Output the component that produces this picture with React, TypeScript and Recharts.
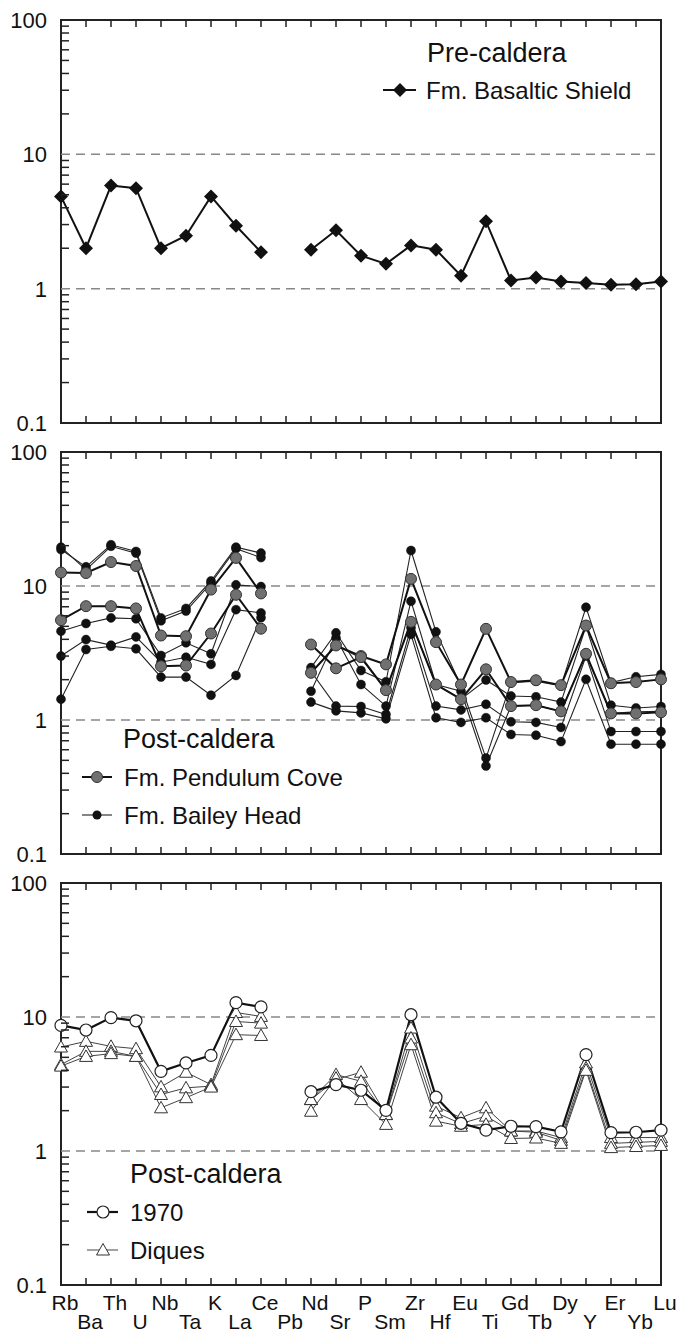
import React from "react";
import {
  LineChart,
  Line,
  XAxis,
  YAxis,
  ReferenceLine,
  ReferenceArea,
  Legend,
} from "recharts";

const ELEMENTS = [
  "Rb", "Ba", "Th", "U", "Nb", "Ta", "K", "La", "Ce", "Pb", "Nd", "Sr", "P",
  "Sm", "Zr", "Hf", "Eu", "Ti", "Gd", "Tb", "Dy", "Y", "Er", "Yb", "Lu",
];

const X_TICKS = ELEMENTS.map((_, i) => i);

const DECADES = [0.1, 1, 10, 100];
const Y_TICKS = [
  0.1, 0.2, 0.3, 0.4, 0.5, 0.6, 0.7, 0.8, 0.9,
  1, 2, 3, 4, 5, 6, 7, 8, 9,
  10, 20, 30, 40, 50, 60, 70, 80, 90,
  100,
];

// pre-caldera
const BASALTIC_SHIELD = [4.86, 2.0, 5.86, 5.6, 2.0, 2.48, 4.86, 2.94, 1.87, null, 1.95, 2.72, 1.76, 1.53, 2.1, 1.95, 1.25, 3.17, 1.15, 1.21, 1.13, 1.1, 1.07, 1.08, 1.13];

// post-caldera: Pendulum Cove
const PENDULUM_1 = [12.6, 12.5, 15.1, 14.1, 4.27, 4.22, 9.4, 16.2, 8.8, null, 2.25, 3.6, 3.0, 2.6, 11.3, 3.81, 1.84, 4.79, 1.92, 1.98, 1.82, 5.07, 1.88, 1.92, 2.01];
const PENDULUM_2 = [5.56, 7.07, 7.07, 6.8, 2.52, 2.55, 4.42, 8.6, 4.8, null, 3.66, 2.43, 2.95, 1.67, 5.4, 1.84, 1.43, 2.39, 1.27, 1.29, 1.16, 3.12, 1.12, 1.12, 1.14];

// post-caldera: Bailey Head
const BAILEY_1 = [18.7, 13.9, 20.3, 18.1, 5.78, 6.8, 10.9, 19.5, 17.6, null, 2.46, 4.47, 2.34, 1.93, 18.4, 4.55, 1.8, 0.52, 1.9, 1.95, 1.8, 6.94, 1.9, 2.1, 2.19];
const BAILEY_2 = [19.5, 13.2, 19.8, 17.6, 5.5, 6.5, 10.5, 19.0, 16.3, null, 2.25, 3.6, 2.9, 1.67, 5.4, 1.84, 1.64, 0.454, 1.27, 1.29, 1.16, 3.12, 1.12, 1.15, 1.16];
const BAILEY_3 = [4.6, 5.25, 5.78, 5.7, 3.03, 3.77, 3.12, 10.2, 9.9, null, 1.64, 4.1, 1.84, 1.27, 7.7, 1.84, 1.43, 1.99, 1.51, 1.49, 1.36, 5.0, 1.29, 1.23, 1.26];
const BAILEY_4 = [3.0, 3.98, 3.62, 4.17, 2.7, 2.94, 2.6, 6.66, 6.3, null, 2.3, 1.27, 1.26, 1.1, 4.88, 1.27, 1.19, 1.31, 0.97, 0.96, 0.88, 3.0, 0.82, 0.82, 0.82];
const BAILEY_5 = [1.43, 3.36, 3.55, 3.4, 2.09, 2.09, 1.53, 2.15, 5.8, null, 1.36, 1.17, 1.13, 1.02, 4.35, 1.04, 0.96, 1.04, 0.78, 0.77, 0.69, 2.01, 0.66, 0.66, 0.66];

// post-caldera: 1970 eruption and dykes
const ERUPTION_1970 = [8.65, 8.0, 9.9, 9.37, 3.93, 4.54, 5.17, 12.8, 11.9, null, 2.77, 3.13, 2.84, 2.01, 10.4, 2.52, 1.61, 1.43, 1.53, 1.52, 1.39, 5.24, 1.37, 1.38, 1.43];
const DIQUES_1 = [5.97, 6.58, 6.04, 5.8, 3.01, 3.87, 3.13, 10.8, 10.1, null, 2.42, 3.41, 3.87, 1.87, 8.27, 2.16, 1.77, 2.1, 1.41, 1.41, 1.26, 4.54, 1.26, 1.26, 1.26];
const DIQUES_2 = [4.41, 5.54, 5.54, 5.08, 2.64, 2.96, 3.05, 9.26, 9.0, null, 2.42, 3.72, 3.31, 1.87, 6.97, 1.93, 1.6, 1.82, 1.41, 1.38, 1.2, 4.17, 1.14, 1.16, 1.18];
const DIQUES_3 = [4.3, 5.08, 5.33, 5.08, 2.1, 2.5, 3.0, 7.38, 7.28, null, 1.98, 3.5, 2.42, 1.58, 6.21, 1.67, 1.53, 1.58, 1.24, 1.25, 1.14, 4.0, 1.06, 1.08, 1.1];

const rows1 = ELEMENTS.map((el, i) => ({ i, el, bs: BASALTIC_SHIELD[i] }));
const rows2 = ELEMENTS.map((el, i) => ({
  i, el,
  pc1: PENDULUM_1[i], pc2: PENDULUM_2[i],
  bh1: BAILEY_1[i], bh2: BAILEY_2[i], bh3: BAILEY_3[i], bh4: BAILEY_4[i], bh5: BAILEY_5[i],
}));
const rows3 = ELEMENTS.map((el, i) => ({
  i, el,
  e70: ERUPTION_1970[i], d1: DIQUES_1[i], d2: DIQUES_2[i], d3: DIQUES_3[i],
}));

const INK = "#222";
const FONT = "'Liberation Sans', Arial, sans-serif";

const LogTick = (props: any) => {
  const { x, y, payload } = props;
  const v = payload.value;
  if (DECADES.includes(v)) {
    return (
      <text x={x - 14} y={y} dy="0.36em" textAnchor="end" fontSize={22} fill="#111">
        {String(v)}
      </text>
    );
  }
  return <line x1={x} y1={y} x2={x + 8} y2={y} stroke={INK} strokeWidth={1.5} />;
};

const makeXTick = (plotH: number, labels: boolean) => (props: any) => {
  const { x, y, payload } = props;
  const i = payload.value;
  return (
    <g>
      <line x1={x} y1={y} x2={x} y2={y - 7} stroke={INK} strokeWidth={1.5} />
      <line x1={x} y1={y - plotH} x2={x} y2={y - plotH + 7} stroke={INK} strokeWidth={1.5} />
      {labels && (
        <text x={x + 4} y={y + (i % 2 === 0 ? 25 : 44)} textAnchor="middle" fontSize={21} fill="#111">
          {ELEMENTS[i]}
        </text>
      )}
    </g>
  );
};

const Diamond = (p: any) => {
  const { cx, cy, index } = p;
  if (cx == null || cy == null) return <g key={`dm-${index}`} />;
  return (
    <path
      key={`dm-${index}`}
      d={`M${cx},${cy - 7}L${cx + 7},${cy}L${cx},${cy + 7}L${cx - 7},${cy}Z`}
      fill="#111"
    />
  );
};

const Triangle = (p: any) => {
  const { cx, cy, index, dataKey } = p;
  if (cx == null || cy == null) return <g key={`tr-${dataKey}-${index}`} />;
  return (
    <path
      key={`tr-${dataKey}-${index}`}
      d={`M${cx},${cy - 6.5}L${cx + 6.5},${cy + 5}L${cx - 6.5},${cy + 5}Z`}
      fill="#fff"
      stroke="#333"
      strokeWidth={1}
    />
  );
};

const axes = (plotH: number, xH: number, labels: boolean) => [
  <XAxis
    key="x"
    dataKey="i"
    type="number"
    domain={[0, 24]}
    ticks={X_TICKS}
    interval={0}
    height={xH}
    axisLine={false}
    tickLine={false}
    tickSize={0}
    tickMargin={0}
    tick={makeXTick(plotH, labels)}
  />,
  <YAxis
    key="y"
    scale="log"
    domain={[0.1, 100]}
    ticks={Y_TICKS}
    interval={0}
    width={61}
    axisLine={false}
    tickLine={false}
    tickSize={0}
    tickMargin={0}
    tick={<LogTick />}
  />,
  <ReferenceLine key="r10" y={10} stroke="#888" strokeWidth={1.5} strokeDasharray="9 6" />,
  <ReferenceLine key="r1" y={1} stroke="#888" strokeWidth={1.5} strokeDasharray="9 6" />,
  <ReferenceArea key="fr" x1={0} x2={24} y1={0.1} y2={100} fill="none" stroke={INK} strokeWidth={2} />,
];

export default function App() {
  return (
    <div style={{ position: "absolute", left: 0, top: 0, width: 680, height: 1334, fontFamily: FONT, background: "#fff" }}>

      <div style={{ position: "absolute", left: 0, top: 0 }}>
        <LineChart width={680} height={440} data={rows1} margin={{ top: 20, right: 19, bottom: 0, left: 0 }}>
          {axes(403, 17, false)}
          <Line dataKey="bs" stroke="#111" strokeWidth={2} dot={Diamond} isAnimationActive={false} />
          <Legend
            layout="vertical"
            align="center"
            verticalAlign="middle"
            wrapperStyle={{ left: 0, top: 0, width: 680, height: 440 }}
            content={() => (
              <svg width={680} height={440} style={{ position: "absolute", left: 0, top: 0 }}>
                <text x={427} y={52} dy="0.36em" fontSize={27} fill="#111">Pre-caldera</text>
                <line x1={383} y1={90} x2={416} y2={90} stroke="#111" strokeWidth={2} />
                <path d="M400,83L407,90L400,97L393,90Z" fill="#111" />
                <text x={426} y={90} dy="0.36em" fontSize={24} fill="#111">Fm. Basaltic Shield</text>
              </svg>
            )}
          />
        </LineChart>
      </div>

      <div style={{ position: "absolute", left: 0, top: 440 }}>
        <LineChart width={680} height={430} data={rows2} margin={{ top: 12, right: 19, bottom: 0, left: 0 }}>
          {axes(402, 16, false)}
          {["bh1", "bh2", "bh3", "bh4", "bh5"].map((k) => (
            <Line
              key={k}
              dataKey={k}
              stroke={INK}
              strokeWidth={1.1}
              dot={{ r: 4.5, fill: "#111", stroke: "#111", strokeWidth: 0.5 }}
              isAnimationActive={false}
            />
          ))}
          {["pc1", "pc2"].map((k) => (
            <Line
              key={k}
              dataKey={k}
              stroke="#111"
              strokeWidth={2}
              dot={{ r: 5.5, fill: "#707070", stroke: "#333", strokeWidth: 1 }}
              isAnimationActive={false}
            />
          ))}
          <Legend
            layout="vertical"
            align="center"
            verticalAlign="middle"
            wrapperStyle={{ left: 0, top: 0, width: 680, height: 430 }}
            content={() => (
              <svg width={680} height={430} style={{ position: "absolute", left: 0, top: 0 }}>
                <text x={123} y={298} dy="0.36em" fontSize={27} fill="#111">Post-caldera</text>
                <line x1={82} y1={337} x2={112} y2={337} stroke="#111" strokeWidth={2} />
                <circle cx={97} cy={337} r={5.5} fill="#707070" stroke="#333" />
                <text x={124} y={337} dy="0.36em" fontSize={24} fill="#111">Fm. Pendulum Cove</text>
                <line x1={82} y1={375} x2={112} y2={375} stroke={INK} strokeWidth={1.1} />
                <circle cx={97} cy={375} r={4.5} fill="#111" />
                <text x={124} y={375} dy="0.36em" fontSize={24} fill="#111">Fm. Bailey Head</text>
              </svg>
            )}
          />
        </LineChart>
      </div>

      <div style={{ position: "absolute", left: 0, top: 870 }}>
        <LineChart width={680} height={464} data={rows3} margin={{ top: 13, right: 19, bottom: 0, left: 0 }}>
          {axes(402, 49, true)}
          {["d1", "d2", "d3"].map((k) => (
            <Line
              key={k}
              dataKey={k}
              stroke="#444"
              strokeWidth={1}
              dot={Triangle}
              isAnimationActive={false}
            />
          ))}
          <Line
            dataKey="e70"
            stroke="#111"
            strokeWidth={2.2}
            dot={{ r: 6, fill: "#fff", stroke: "#222", strokeWidth: 1.2 }}
            isAnimationActive={false}
          />
          <Legend
            layout="vertical"
            align="center"
            verticalAlign="middle"
            wrapperStyle={{ left: 0, top: 0, width: 680, height: 464 }}
            content={() => (
              <svg width={680} height={464} style={{ position: "absolute", left: 0, top: 0 }}>
                <text x={130} y={303} dy="0.36em" fontSize={27} fill="#111">Post-caldera</text>
                <line x1={87} y1={342} x2={118} y2={342} stroke="#111" strokeWidth={2.2} />
                <circle cx={103} cy={342} r={6} fill="#fff" stroke="#222" strokeWidth={1.2} />
                <text x={130} y={342} dy="0.36em" fontSize={24} fill="#111">1970</text>
                <line x1={87} y1={380} x2={118} y2={380} stroke="#444" strokeWidth={1} />
                <path d="M103,373.5L109.5,385L96.5,385Z" fill="#fff" stroke="#333" />
                <text x={130} y={380} dy="0.36em" fontSize={24} fill="#111">Diques</text>
              </svg>
            )}
          />
        </LineChart>
      </div>
    </div>
  );
}
